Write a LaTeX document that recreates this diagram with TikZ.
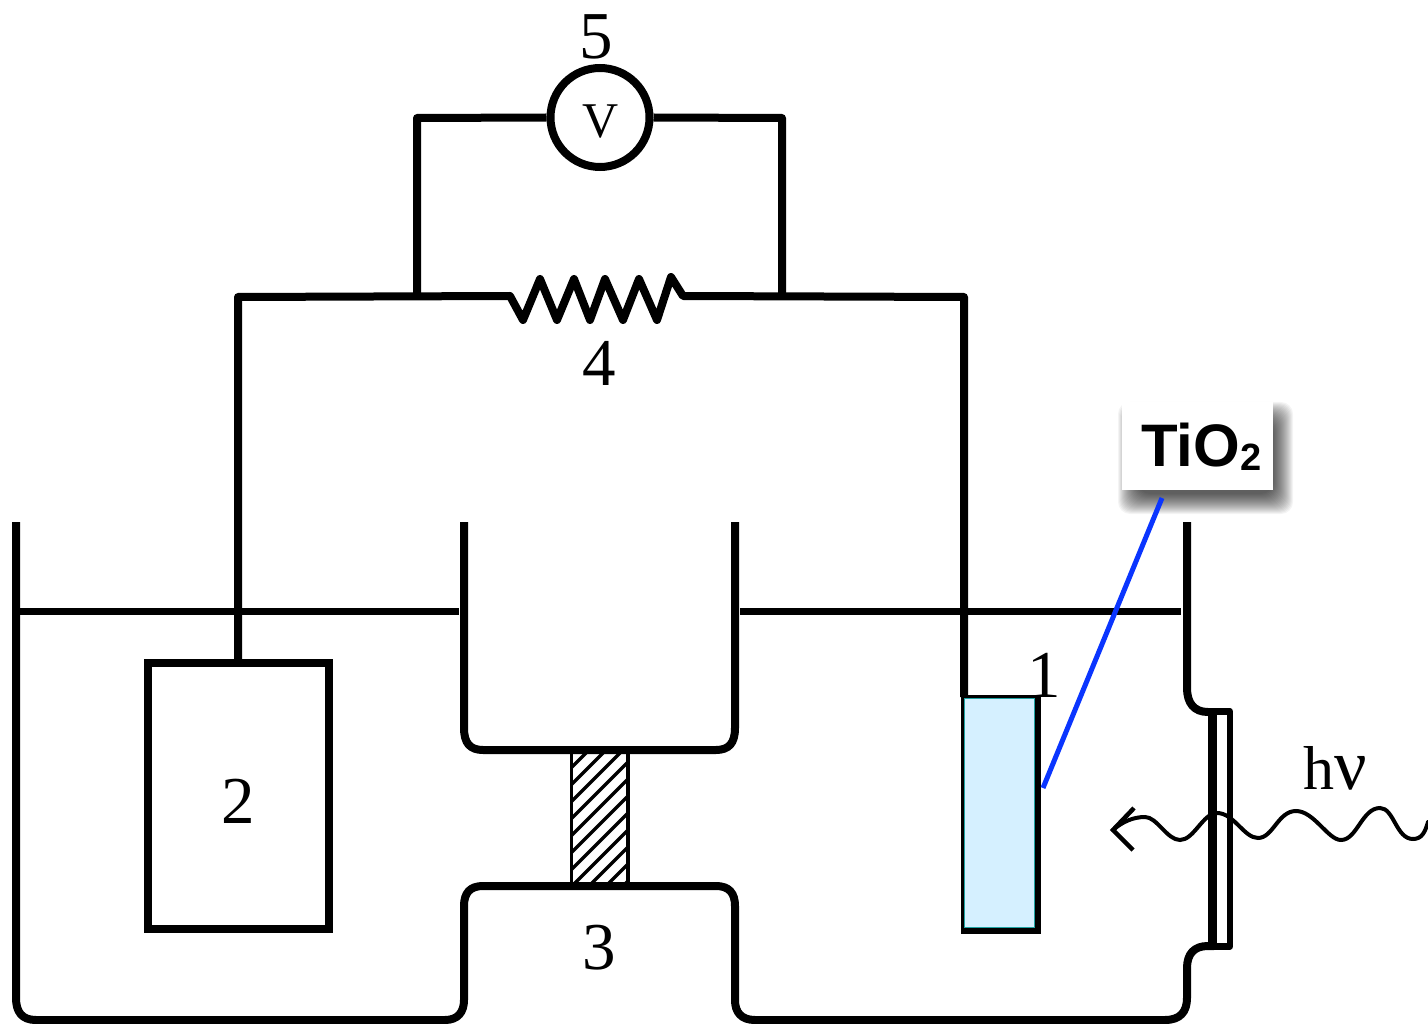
\documentclass[tikz,border=0pt]{standalone}
\usepackage{fontspec}
\setmainfont{Liberation Serif}
\newfontfamily\labsans{Liberation Sans}
\definecolor{filmblue}{HTML}{D5F0FF}
\definecolor{filmteal}{HTML}{1FA3A3}
\definecolor{leadblue}{HTML}{0A35FF}
\tikzset{
  wire/.style={draw=black,line width=8pt,line join=round,line cap=butt},
  thinwire/.style={draw=black,line width=7pt},
  num/.style={inner sep=0pt,font=\fontsize{67}{70}\selectfont},
}
\begin{document}
\begin{tikzpicture}[x=1pt,y=-1pt]
\useasboundingbox (0,0) rectangle (1428,1024);
\fill[white] (0,0) rectangle (1428,1024);

% junction coordinates
\coordinate (bl) at (238,297);
\coordinate (br) at (964,297);
\coordinate (pl) at (417,297);
\coordinate (pr) at (782,297);
\coordinate (vl) at (417,118);
\coordinate (vr) at (782,118);
\coordinate (resL) at (510,296);
\coordinate (resR) at (683,296);

% nodes
\node[circle,draw=black,line width=8pt,minimum size=99pt,inner sep=0pt] (vm) at (600,117.5) {};
\node[rectangle,draw=black,line width=8pt,minimum width=181pt,minimum height=266pt,inner sep=0pt] (box2) at (238,796) {};
\node[rectangle,fill=black,minimum width=80pt,minimum height=239pt,inner sep=0pt] (film) at (1000.5,814) {};
\node[rectangle,fill=filmblue,draw=filmteal,line width=1.5pt,minimum width=70pt,minimum height=229pt,inner sep=0pt] (filmin) at (999.5,813) {};

% vessel
\draw[wire] (16,522) -- (16,998) .. controls (16,1012) and (22,1020) .. (36,1020)
  -- (445,1020) .. controls (458,1020) and (464,1012) .. (464,1000)
  -- (464,906) .. controls (464,893) and (470,886) .. (483,886)
  -- (716,886) .. controls (729,886) and (735,893) .. (735,906)
  -- (735,1000) .. controls (735,1012) and (741,1020) .. (755,1020)
  -- (1165,1020) .. controls (1180,1020) and (1187,1012) .. (1187,998)
  -- (1187,968) .. controls (1187,954) and (1194,946) .. (1208,946) -- (1214,946);
\draw[wire] (1187,522) -- (1187,688) .. controls (1187,703) and (1194,712) .. (1208,712) -- (1214,712);
\draw[wire] (464,522) -- (464,728) .. controls (464,743) and (470,750) .. (483,750)
  -- (716,750) .. controls (729,750) and (735,743) .. (735,728) -- (735,522);

% liquid level
\draw[thinwire] (18,611) -- (459,611);
\draw[thinwire] (740,611) -- (1181,611);

% window
\draw[draw=black,line width=6.5pt,line join=round] (1212,711.5) -- (1230,711.5) -- (1230,946.5) -- (1212,946.5);
\draw[draw=black,line width=8.5pt] (1212.3,708) -- (1212.3,950);

% membrane
\begin{scope}
\clip (571,752) rectangle (628,884);
\foreach \yy in {768,785,...,955} {
  \draw[black,line width=3.2pt] (571,\yy) -- (629,\yy-58);
}
\end{scope}
\draw[black,line width=3.8pt] (571.5,750) -- (571.5,886);
\draw[black,line width=3.8pt] (628,750) -- (628,886);

% circuit
\draw[wire] (box2.north) -- (bl) -- (resL)
  -- (523,320) -- (540,279) -- (557,320) -- (574,279) -- (590,320) -- (605,279)
  -- (623,320) -- (639,279) -- (657,320) -- (671,277) -- (resR) -- (br) -- (964,697);
\draw[wire] (pl) -- (vl) -- (vm.west);
\draw[wire] (pr) -- (vr) -- (vm.east);

% label shadow
\foreach \b in {12,11,...,-8} {
  \fill[black,opacity=0.045,rounded corners=12pt] (1130-\b,414-\b) rectangle (1281+\b,502+\b);
}
\node[rectangle,fill=white,minimum width=151pt,minimum height=88pt,inner sep=0pt] (lab) at (1197.5,446) {};
\node[inner sep=0pt,anchor=base west] (labtext) at (1141,466) {\labsans\bfseries\fontsize{60}{64}\selectfont TiO\raisebox{-4pt}{\fontsize{38}{40}\selectfont 2}};

% lead line
\coordinate (leadend) at (1043,788);
\draw[leadblue,line width=5pt] (1162,498) -- (leadend);

% wave
\coordinate (tip) at (1113,830);
\coordinate (waveEnd) at (1428,822);
\draw[black,line width=4pt,line cap=round]
  (tip) .. controls (1122,822) and (1133,817) .. (1145,817)
  .. controls (1157,817) and (1167,840) .. (1180,840)
  .. controls (1194,840) and (1203,813) .. (1217,813)
  .. controls (1234,813) and (1244,838) .. (1258,838)
  .. controls (1273,838) and (1278,811) .. (1296,811)
  .. controls (1314,811) and (1328,840) .. (1341,840)
  .. controls (1357,840) and (1362,808) .. (1380,808)
  .. controls (1394,808) and (1396,839) .. (1413,839)
  .. controls (1422,839) and (1425,832) .. (waveEnd);
\draw[black,line width=4.5pt,line join=miter] (1134,808) -- (tip) -- (1133,850);

% labels
\node[num] (n1) at (1044,675) {1};
\node[num] (n2) at (238,801) {2};
\node[num] (n3) at (599,948) {3};
\node[num] (n4) at (599,363) {4};
\node[num] (n5) at (596,37) {5};
\node[inner sep=0pt,font=\fontsize{50}{54}\selectfont] (nv) at (601,122) {V};
\node[inner sep=0pt,anchor=base west,font=\fontsize{62}{66}\selectfont] (hnu) at (1303,789) {h{\fontsize{72}{72}\selectfont ν}};
\end{tikzpicture}
\end{document}
